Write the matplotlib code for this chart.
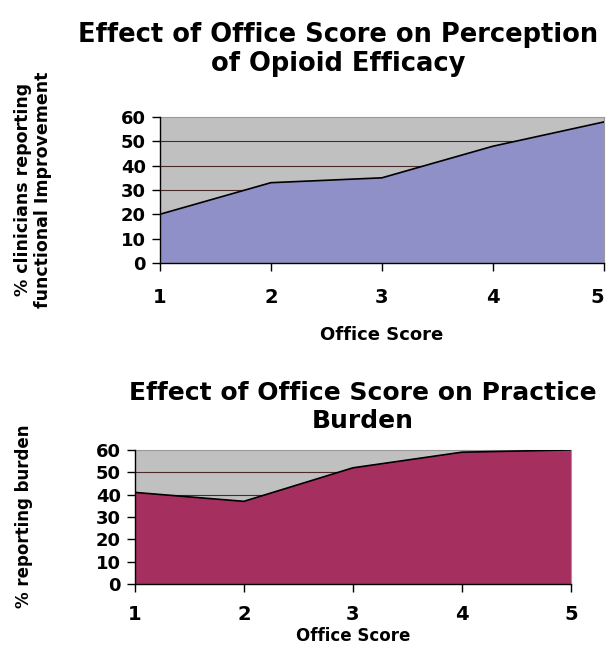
import matplotlib
matplotlib.use("Agg")
import matplotlib.pyplot as plt

# data
scores = [1, 2, 3, 4, 5]
efficacy = [20, 33, 35, 48, 58]
burden = [41, 37, 52, 59, 60]
yticks = [0, 10, 20, 30, 40, 50, 60]

# wide bold sans to mimic the horizontally stretched Arial of the original
plt.rcParams['font.family'] = ['DejaVu Sans']
plt.rcParams['font.weight'] = 'bold'

fig = plt.figure(figsize=(6.1, 6.54), dpi=100)


def area_panel(ax, values, color, ylab_size, xlab_size, xpad):
    ax.set_facecolor('#c0c0c0')
    ax.fill_between(scores, values, 0, color=color, zorder=2)
    ax.plot(scores, values, color='black', lw=1.2, zorder=3)
    ax.set_xlim(1, 5)
    ax.set_ylim(0, 60)
    ax.set_yticks(yticks)
    ax.set_xticks(scores)
    for y in [10, 20, 30, 40, 50]:
        ax.axhline(y, color='#4a2a2a', lw=0.8, zorder=1)
    for s in ['top', 'right']:
        ax.spines[s].set_color('#999999')
        ax.spines[s].set_linewidth(0.8)
    for s in ['left', 'bottom']:
        ax.spines[s].set_color('black')
        ax.spines[s].set_linewidth(1.0)
        ax.spines[s].set_zorder(4)
    ax.tick_params(axis='y', direction='out', length=6, width=1,
                   labelsize=ylab_size, pad=4)
    ax.tick_params(axis='x', direction='out', length=6, width=1,
                   labelsize=xlab_size, pad=xpad)


ax1 = fig.add_axes([0.262, 0.598, 0.728, 0.223])
area_panel(ax1, efficacy, '#9090c8', 13, 14, 12)
# last label would run past the figure edge
ax1.get_xticklabels()[-1].set_horizontalalignment('right')
ax1.set_xlabel('Office Score', fontsize=13, fontweight='bold', labelpad=14)
fig.text(0.555, 0.925, 'Effect of Office Score on Perception\nof Opioid Efficacy',
         ha='center', va='center', fontsize=18.5, fontweight='bold', linespacing=1.15)
fig.text(0.054, 0.71, '% clinicians reporting\nfunctional Improvement', rotation=90,
         ha='center', va='center', fontsize=12.5, fontweight='bold', linespacing=1.15)

ax2 = fig.add_axes([0.221, 0.107, 0.715, 0.205])
area_panel(ax2, burden, '#a52f5f', 13, 14, 9)
ax2.set_xlabel('Office Score', fontsize=12, fontweight='bold', labelpad=2)
fig.text(0.594, 0.378, 'Effect of Office Score on Practice\nBurden',
         ha='center', va='center', fontsize=18, fontweight='bold', linespacing=1.2)
fig.text(0.040, 0.21, '% reporting burden', rotation=90,
         ha='center', va='center', fontsize=12, fontweight='bold')

fig.savefig('out.png', dpi=100)
